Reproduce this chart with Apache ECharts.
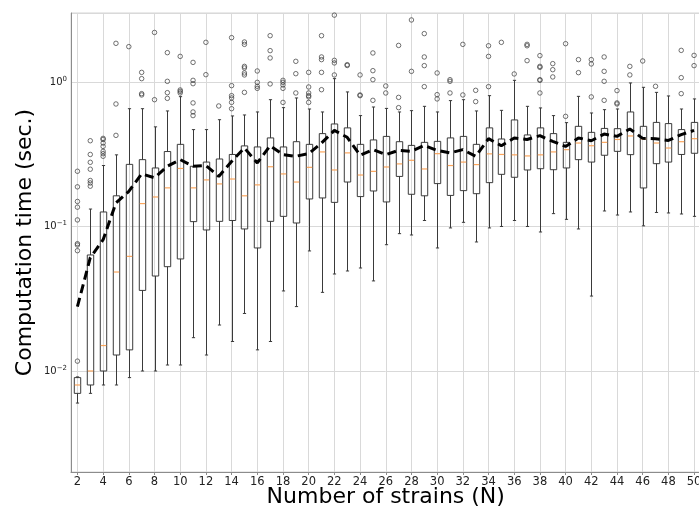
<!DOCTYPE html>
<html>
<head>
<meta charset="utf-8">
<script src="https://cdn.jsdelivr.net/npm/echarts@6/dist/echarts.min.js"></script>
<style>
html, body { margin: 0; padding: 0; background: #fff; }
#container1 { width: 699px; height: 511px; }
</style>
</head>
<body>
<div id="container1"></div>
<script>
// number of strains (x categories)
var strains = [2, 3, 4, 5, 6, 7, 8, 9, 10, 11, 12, 13, 14, 15, 16, 17, 18, 19, 20, 21, 22, 23, 24, 25, 26,
    27, 28, 29, 30, 31, 32, 33, 34, 35, 36, 37, 38, 39, 40, 41, 42, 43, 44, 45, 46, 47, 48, 49, 50];
var xTicks = [2, 4, 6, 8, 10, 12, 14, 16, 18, 20, 22, 24, 26, 28, 30, 32, 34, 36, 38, 40, 42, 44, 46, 48, 50];

// box statistics (sec.)
var whiskerLow = [0.0060, 0.0070, 0.0080, 0.0080, 0.0090, 0.0100, 0.0100, 0.0110, 0.0110, 0.0170, 0.0129, 0.0208, 0.0160,
    0.0250, 0.0140, 0.0160, 0.0358, 0.0279, 0.0677, 0.035, 0.0469, 0.0492, 0.0516, 0.042, 0.0748, 0.0892, 0.0873,
    0.110, 0.0710, 0.0977, 0.1068, 0.0781, 0.0977, 0.100, 0.110, 0.100, 0.0916, 0.1227, 0.112, 0.0961, 0.033,
    0.128, 0.120, 0.126, 0.101, 0.125, 0.124, 0.122, 0.1175];
var q1 = [0.0070, 0.0080, 0.0100, 0.0129, 0.0140, 0.0361, 0.0454, 0.0527, 0.0596, 0.108, 0.0946, 0.1085, 0.110,
    0.0961, 0.071, 0.1085, 0.1175, 0.1057, 0.155, 0.1575, 0.1468, 0.203, 0.161, 0.176, 0.1478, 0.222, 0.167,
    0.163, 0.198, 0.164, 0.177, 0.1686, 0.201, 0.2295, 0.219, 0.246, 0.251, 0.247, 0.254, 0.290, 0.279,
    0.311, 0.331, 0.314, 0.1847, 0.272, 0.279, 0.315, 0.321];
var medians = [0.0080, 0.0100, 0.0150, 0.0484, 0.0621, 0.144, 0.160, 0.185, 0.252, 0.185, 0.210, 0.197, 0.213,
    0.163, 0.194, 0.259, 0.231, 0.203, 0.2565, 0.328, 0.246, 0.323, 0.227, 0.2406, 0.258, 0.271, 0.287,
    0.250, 0.319, 0.264, 0.279, 0.268, 0.318, 0.315, 0.313, 0.3077, 0.313, 0.328, 0.340, 0.378, 0.362,
    0.382, 0.400, 0.423, 0.403, 0.378, 0.349, 0.386, 0.405];
var q3 = [0.0090, 0.0635, 0.126, 0.163, 0.269, 0.290, 0.254, 0.330, 0.370, 0.261, 0.279, 0.293, 0.315,
    0.361, 0.355, 0.410, 0.355, 0.386, 0.370, 0.439, 0.512, 0.481, 0.370, 0.397, 0.420, 0.386, 0.364,
    0.382, 0.388, 0.410, 0.420, 0.370, 0.481, 0.403, 0.546, 0.430, 0.481, 0.439, 0.382, 0.493, 0.448,
    0.477, 0.475, 0.620, 0.493, 0.525, 0.515, 0.468, 0.525];
var whiskerHigh = [0.0091, 0.132, 0.264, 0.313, 0.653, 0.653, 0.489, 0.630, 0.791, 0.468, 0.468, 0.548, 0.582,
    0.591, 0.620, 0.754, 0.664, 0.775, 0.650, 0.620, 1.054, 0.853, 0.585, 0.671, 0.656, 0.620, 0.633,
    0.678, 0.620, 0.743, 0.754, 0.630, 0.804, 0.636, 1.026, 0.678, 0.661, 0.585, 0.523, 0.795, 0.610,
    0.643, 0.650, 0.984, 0.918, 0.847, 0.800, 0.650, 0.763];
var means = [0.0279, 0.0608, 0.081, 0.1455, 0.175, 0.231, 0.217, 0.261, 0.290, 0.261, 0.264, 0.222, 0.282,
    0.349, 0.275, 0.362, 0.314, 0.306, 0.319, 0.378, 0.462, 0.414, 0.311, 0.340, 0.314, 0.336, 0.331,
    0.364, 0.336, 0.323, 0.340, 0.306, 0.405, 0.362, 0.410, 0.400, 0.425, 0.388, 0.358, 0.410, 0.392,
    0.436, 0.420, 0.473, 0.407, 0.405, 0.394, 0.432, 0.462];
var outliers = [
    [0.0117, 0.068, 0.0744, 0.076, 0.111, 0.136, 0.149, 0.188, 0.241],
    [0.190, 0.200, 0.208, 0.249, 0.278, 0.315, 0.392],
    [0.306, 0.319, 0.331, 0.358, 0.378, 0.400, 0.407],
    [0.427, 0.704, 1.85],
    [1.755],
    [0.813, 0.830, 1.054, 1.165],
    [0.754, 2.20],
    [0.770, 0.843, 1.01, 1.595],
    [0.839, 0.861, 0.880, 1.503],
    [0.585, 0.620, 0.716, 0.973, 1.026, 1.366],
    [1.123, 1.88],
    [0.682],
    [0.653, 0.722, 0.775, 0.804, 0.943, 2.026],
    [0.847, 1.118, 1.154, 1.25, 1.282, 1.82, 1.89],
    [0.903, 0.933, 0.994, 1.191],
    [0.969, 1.466, 1.647, 2.09],
    [0.722, 0.903, 0.953, 0.994, 1.026],
    [0.839, 1.141, 1.389],
    [0.722, 0.788, 0.804, 0.839, 0.923, 1.165],
    [0.884, 1.165, 1.427, 1.489, 2.09],
    [1.118, 1.354, 1.411, 2.9],
    [1.30, 1.317],
    [0.804, 0.813, 1.118],
    [0.746, 1.037, 1.197, 1.587],
    [0.839, 0.938],
    [0.664, 0.782, 1.79],
    [1.184, 2.685],
    [0.928, 1.297, 1.489, 2.16],
    [0.763, 0.817, 1.154],
    [0.839, 1.01, 1.037],
    [0.813, 1.82],
    [0.731, 0.875],
    [0.928, 1.503, 1.78],
    [1.88],
    [1.136],
    [1.404, 1.78, 1.82],
    [0.839, 1.026, 1.037, 1.262, 1.282, 1.521],
    [1.083, 1.216, 1.339],
    [0.578, 1.84],
    [1.16, 1.427],
    [0.788, 1.332, 1.427],
    [0.746, 1.01, 1.184, 1.489],
    [0.704, 0.716, 0.871],
    [1.118, 1.282],
    [1.397],
    [0.933],
    [],
    [0.830, 1.071, 1.654],
    [1.297, 1.527]
];

var boxData = strains.map(function (n, i) {
    return [n, whiskerLow[i], q1[i], medians[i], q3[i], whiskerHigh[i]];
});
var meanData = strains.map(function (n, i) { return [n, means[i]]; });
var outlierData = [];
strains.forEach(function (n, i) {
    outliers[i].forEach(function (v) { outlierData.push([n, v]); });
});

var dom = document.getElementById("container1");
var myChart = echarts.init(dom);
var font = 'DejaVu Sans';

function renderBox(params, api) {
    var x = api.value(0);
    var pLow = api.coord([x, api.value(1)]);
    var pQ1 = api.coord([x, api.value(2)]);
    var pMed = api.coord([x, api.value(3)]);
    var pQ3 = api.coord([x, api.value(4)]);
    var pHigh = api.coord([x, api.value(5)]);
    var half = (api.coord([x + 0.25, api.value(3)])[0] - pMed[0]);
    var cx = Math.round(pMed[0]) + 0.5;
    var cap = half / 2;
    var lineStyle = { stroke: '#3a3a3a', lineWidth: 1, fill: null };
    return {
        type: 'group',
        children: [
            { type: 'line', shape: { x1: cx, y1: pLow[1], x2: cx, y2: pQ1[1] }, style: lineStyle },
            { type: 'line', shape: { x1: cx, y1: pQ3[1], x2: cx, y2: pHigh[1] }, style: lineStyle },
            { type: 'line', shape: { x1: cx - cap, y1: pLow[1], x2: cx + cap, y2: pLow[1] }, style: lineStyle },
            { type: 'line', shape: { x1: cx - cap, y1: pHigh[1], x2: cx + cap, y2: pHigh[1] }, style: lineStyle },
            { type: 'rect', shape: { x: cx - half, y: pQ3[1], width: half * 2, height: pQ1[1] - pQ3[1] },
              style: { stroke: '#3a3a3a', lineWidth: 1, fill: 'rgba(0,0,0,0)' } },
            { type: 'line', shape: { x1: cx - half + 0.5, y1: pMed[1], x2: cx + half - 0.5, y2: pMed[1] },
              style: { stroke: '#fca65c', lineWidth: 1.2 } }
        ]
    };
}

var option = {
    animation: false,
    grid: {
        left: 71, top: 13, width: 629.5, height: 459,
        outerBoundsMode: 'none',
        containLabel: false,
        show: true, borderColor: '#d4d4d4', borderWidth: 1
    },
    xAxis: {
        type: 'value',
        min: 1.5,
        max: 50.5,
        name: 'Number of strains (N)',
        nameLocation: 'middle',
        nameGap: 14,
        nameMoveOverlap: false,
        nameTextStyle: { fontFamily: font, fontSize: 22, color: '#000' },
        axisLine: { show: true, lineStyle: { color: '#8c8c8c' } },
        axisTick: { show: true, length: 3, customValues: xTicks, lineStyle: { color: '#8c8c8c' } },
        axisLabel: { customValues: xTicks, fontFamily: font, fontSize: 11.5, color: '#222', margin: 4 },
        splitLine: { show: true, lineStyle: { color: '#d9d9d9', width: 1 } }
    },
    yAxis: {
        type: 'log',
        logBase: 10,
        min: 0.002,
        max: 3.0,
        name: 'Computation time (sec.)',
        nameLocation: 'middle',
        nameGap: 35,
        nameMoveOverlap: false,
        nameTextStyle: { fontFamily: font, fontSize: 22, color: '#000' },
        axisLine: { show: true, lineStyle: { color: '#8c8c8c' } },
        axisTick: { show: false },
        axisLabel: {
            showMinLabel: false,
            showMaxLabel: false,
            fontFamily: font,
            fontSize: 10,
            color: '#222',
            margin: 4,
            formatter: function (v) {
                var e = Math.round(Math.log(v) / Math.LN10);
                return '10{s|' + (e < 0 ? '\u2212' + (-e) : e) + '}';
            },
            rich: {
                s: { fontFamily: font, fontSize: 7, color: '#222', verticalAlign: 'top', padding: [0, 0, 6, 0] }
            }
        },
        splitLine: { show: true, lineStyle: { color: '#d9d9d9', width: 1 } }
    },
    series: [
        {
            name: 'box',
            type: 'custom',
            renderItem: renderBox,
            encode: { x: 0, y: [1, 2, 3, 4, 5] },
            data: boxData,
            z: 2
        },
        {
            name: 'outliers',
            type: 'scatter',
            symbol: 'circle',
            symbolSize: 4.5,
            itemStyle: { color: 'rgba(0,0,0,0)', borderColor: '#3a3a3a', borderWidth: 0.9 },
            data: outlierData,
            z: 3
        },
        {
            name: 'mean',
            type: 'line',
            symbol: 'none',
            lineStyle: { color: '#000', width: 3, type: [9, 5] },
            data: meanData,
            z: 4
        }
    ]
};

myChart.setOption(option, true);
</script>
</body>
</html>
